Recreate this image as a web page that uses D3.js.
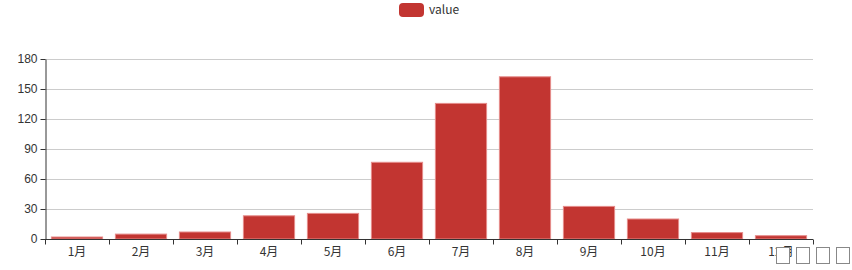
<!DOCTYPE html>
<html>
<head>
<meta charset="utf-8">
<script src="https://cdn.jsdelivr.net/npm/d3@7"></script>
<style>
  body { margin: 0; background: #fff; }
  svg { display: block; font-family: "Microsoft YaHei", "Noto Sans CJK SC", sans-serif; }
</style>
</head>
<body>
<div id="chart"></div>
<script>
const months = ["1月", "2月", "3月", "4月", "5月", "6月", "7月", "8月", "9月", "10月", "11月", "12月"];
const values = [2.0, 4.9, 7.0, 23.2, 25.6, 76.7, 135.6, 162.2, 32.6, 20.0, 6.4, 3.3];
const yTicks = [0, 30, 60, 90, 120, 150, 180];
const seriesName = "value";

const width = 852;
const height = 270;
const margins = { top: 59, right: 39, bottom: 31, left: 45 };
const barColor = "#c23531";

const svg = d3.select("#chart")
    .append("svg")
    .attr("width", width)
    .attr("height", height);

const x = d3.scaleBand()
    .domain(months)
    .range([margins.left, width - margins.right])
    .paddingInner(0.2)
    .paddingOuter(0.1);
const band = d3.scaleBand()
    .domain(months)
    .range([margins.left, width - margins.right]);
const y = d3.scaleLinear()
    .domain([0, 180])
    .range([height - margins.bottom, margins.top]);

// grid lines
svg.append("g")
    .selectAll("line")
    .data(yTicks.slice(1))
    .join("line")
    .attr("x1", margins.left)
    .attr("x2", width - margins.right)
    .attr("y1", d => Math.round(y(d)) + 0.5)
    .attr("y2", d => Math.round(y(d)) + 0.5)
    .attr("stroke", "#ccc");

// bars
svg.append("g")
    .selectAll("rect")
    .data(values)
    .join("rect")
    .attr("x", (d, i) => x(months[i]))
    .attr("y", d => y(d))
    .attr("width", x.bandwidth())
    .attr("height", d => y(0) - y(d))
    .attr("fill", barColor)
    .attr("stroke", "#e58c8a")
    .attr("stroke-width", 1);

// y axis
const gy = svg.append("g")
    .attr("transform", `translate(${margins.left + 0.5},0)`)
    .call(d3.axisLeft(y).tickValues(yTicks).tickSize(5).tickPadding(3).tickSizeOuter(0));
gy.select(".domain").attr("stroke", "#333");
gy.selectAll(".tick line").attr("stroke", "#333");
gy.selectAll(".tick text").attr("fill", "#333").style("font-size", "12px");

// x axis with ticks on band boundaries
const gx = svg.append("g")
    .attr("transform", `translate(0,${Math.round(y(0)) + 0.5})`);
gx.append("line")
    .attr("x1", margins.left)
    .attr("x2", width - margins.right)
    .attr("stroke", "#333");
gx.selectAll(".bound")
    .data(months.concat([null]))
    .join("line")
    .attr("class", "bound")
    .attr("x1", (d, i) => Math.round(margins.left + i * band.bandwidth()) + 0.5)
    .attr("x2", (d, i) => Math.round(margins.left + i * band.bandwidth()) + 0.5)
    .attr("y1", 0)
    .attr("y2", 5)
    .attr("stroke", "#333");
gx.selectAll("text")
    .data(months)
    .join("text")
    .attr("x", d => band(d) + band.bandwidth() / 2)
    .attr("y", 16)
    .attr("text-anchor", "middle")
    .attr("fill", "#333")
    .style("font-size", "12px")
    .text(d => d);

// legend
const legend = svg.append("g");
legend.append("rect")
    .attr("x", 399)
    .attr("y", 3)
    .attr("width", 25)
    .attr("height", 14)
    .attr("rx", 4)
    .attr("fill", barColor);
legend.append("text")
    .attr("x", 429)
    .attr("y", 14)
    .attr("fill", "#333")
    .style("font-size", "12px")
    .text(seriesName);

// missing-glyph boxes at bottom right
svg.append("g")
    .selectAll("rect")
    .data([0, 1, 2, 3])
    .join("rect")
    .attr("x", d => 776.5 + d * 20)
    .attr("y", 247.5)
    .attr("width", 13)
    .attr("height", 16)
    .attr("fill", "#fff")
    .attr("stroke", "#888");
</script>
</body>
</html>
